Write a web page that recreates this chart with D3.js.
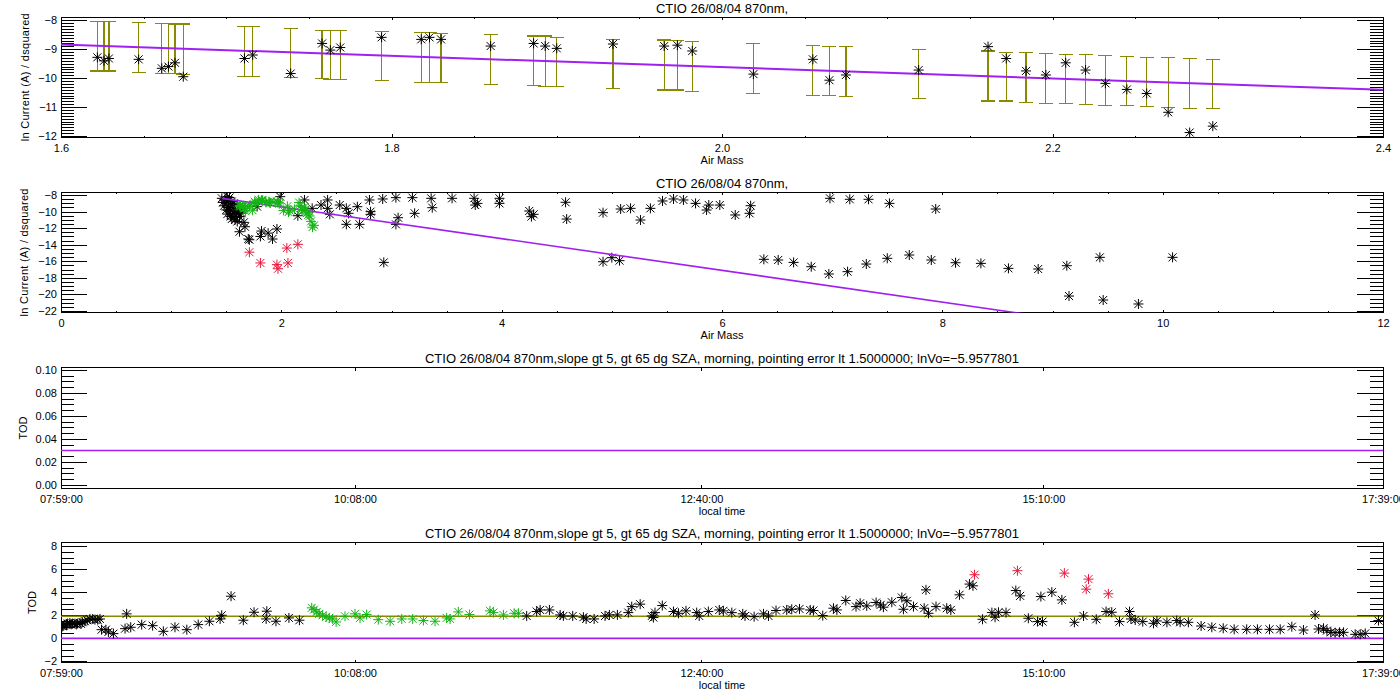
<!DOCTYPE html>
<html>
<head>
<meta charset="utf-8">
<script src="https://cdn.jsdelivr.net/npm/d3@7"></script>
<style>
body { margin: 0; background: #fff; }
text { font-family: "Liberation Sans", Arial, sans-serif; fill: #000; }
</style>
</head>
<body>
<script>
// ---- data ----
var titleShort = "CTIO 26/08/04 870nm,";
var titleLong = "CTIO 26/08/04 870nm,slope gt 5, gt 65 dg SZA, morning, pointing error lt 1.5000000; lnVo=\u22125.9577801";

// panel 1: selected points with error bars
var p1Airmass = [1.622, 1.626, 1.629, 1.647, 1.661, 1.665, 1.669, 1.674, 1.711, 1.716, 1.739, 1.758, 1.763, 1.769, 1.794, 1.818, 1.823, 1.830,
    1.860, 1.886, 1.893, 1.900, 1.934, 1.965, 1.973, 1.982, 2.019, 2.055, 2.065, 2.075, 2.119,
    2.161, 2.172, 2.184, 2.196, 2.208, 2.220, 2.232, 2.245, 2.257, 2.270, 2.283, 2.297];
var p1LnI = [-9.28, -9.40, -9.32, -9.35, -9.66, -9.60, -9.47, -9.95, -9.32, -9.20, -9.84, -8.80, -9.03, -8.94, -8.59, -8.66, -8.59, -8.66,
    -8.89, -8.80, -8.89, -8.97, -8.82, -8.89, -8.86, -9.06, -9.86, -9.35, -10.07, -9.89, -9.72,
    -8.91, -9.32, -9.75, -9.89, -9.47, -9.72, -10.18, -10.39, -10.53, -11.18, -11.88, -11.66];
var p1ErrHi = [-8.05, -8.05, -8.05, -8.08, -8.11, -8.11, -8.13, -8.13, -8.22, -8.22, -8.28, -8.34, -8.34, -8.34, -8.39, -8.42, -8.42, -8.45,
    -8.49, -8.54, -8.54, -8.59, -8.66, -8.68, -8.71, -8.73, -8.80, -8.87, -8.90, -8.90, -9.01,
    -9.06, -9.11, -9.11, -9.14, -9.18, -9.18, -9.21, -9.25, -9.28, -9.28, -9.32, -9.35];
var p1ErrLo = [-9.75, -9.75, -9.75, -9.80, -9.84, -9.84, -9.84, -9.86, -9.95, -9.95, -9.97, -10.01, -10.04, -10.04, -10.07, -10.15, -10.15, -10.15,
    -10.22, -10.25, -10.29, -10.29, -10.35, -10.41, -10.41, -10.46, -10.53, -10.60, -10.60, -10.63, -10.70,
    -10.79, -10.79, -10.84, -10.87, -10.87, -10.91, -10.94, -10.94, -10.98, -11.01, -11.05, -11.05];
var p1FitCoef = [-5.70, -1.96];      // intercept, slope
var p1FitRange = [1.6, 2.4];

// panel 2: all points (airmass, ln current)
var p2Black = [
    [1.46, -8.4], [1.47, -8.9], [1.48, -9.3], [1.49, -8.6], [1.50, -9.8], [1.50, -9.0], [1.51, -8.2], [1.51, -10.3],
    [1.52, -9.5], [1.52, -8.7], [1.53, -10.0], [1.53, -8.3], [1.54, -10.6], [1.54, -9.2], [1.55, -8.8], [1.55, -10.9],
    [1.56, -9.6], [1.56, -10.2], [1.57, -9.0], [1.57, -10.7], [1.58, -9.9], [1.58, -11.0], [1.59, -10.4], [1.60, -9.3],
    [1.60, -11.2], [1.61, -10.1], [1.62, -10.6], [1.63, -9.7], [1.64, -10.2], [1.65, -9.4], [1.66, -11.3],
    [1.67, -11.83], [1.62, -12.43], [1.70, -13.31], [1.71, -13.4], [1.82, -12.35], [1.81, -13.0], [1.88, -12.6],
    [1.92, -13.31], [1.96, -12.1], [1.78, -9.4], [1.99, -8.2], [2.15, -10.5], [2.21, -8.6],
    [2.28, -9.61], [2.36, -9.21], [2.42, -8.60], [2.42, -9.61], [2.44, -10.33], [2.53, -9.21], [2.59, -9.61],
    [2.61, -10.21], [2.59, -11.54], [2.69, -9.41], [2.71, -11.54], [2.80, -8.60], [2.81, -10.01], [2.81, -10.33],
    [2.92, -8.48], [2.93, -16.13], [3.04, -8.32], [3.06, -10.74], [3.04, -11.54], [3.19, -8.32], [3.21, -10.21],
    [3.36, -8.40], [3.37, -9.53], [3.55, -8.40], [3.75, -8.40], [3.76, -9.21], [3.78, -9.01], [3.98, -8.40],
    [3.98, -9.01], [4.25, -9.93], [4.29, -10.33], [4.27, -10.61], [4.58, -8.88], [4.59, -10.90], [4.92, -16.05],
    [4.92, -10.13], [5.00, -15.56], [5.07, -15.92], [5.08, -9.69], [5.17, -9.61], [5.26, -11.02], [5.35, -9.61],
    [5.46, -8.72], [5.56, -8.48], [5.65, -8.60], [5.76, -9.01], [5.86, -9.81], [5.88, -9.21], [5.98, -9.21],
    [6.12, -10.41], [6.25, -10.21], [6.26, -9.29], [6.38, -15.76], [6.51, -15.84], [6.65, -16.13], [6.81, -16.65],
    [6.97, -17.53], [6.98, -8.40], [7.14, -17.25], [7.16, -8.52], [7.31, -16.33], [7.33, -8.52], [7.50, -15.64],
    [7.52, -9.01], [7.70, -15.24], [7.90, -15.84], [7.94, -9.69], [8.12, -16.17], [8.35, -16.25], [8.60, -16.85],
    [8.87, -16.93], [9.13, -16.53], [9.15, -20.19], [9.43, -15.52], [9.46, -20.67], [9.78, -21.15], [10.09, -15.52]
];
var p2Red = [[1.71, -14.9], [1.81, -16.2], [1.96, -16.4], [1.97, -16.9], [2.06, -16.2], [2.05, -14.4], [2.15, -13.95]];
var p2FitCoef = [-5.61, -1.914];
var p2FitRange = [1.46, 12];

// panels 3 and 4: local time in minutes of the day
var timeTicks = [479, 608, 760, 910, 1059];   // 07:59, 10:08, 12:40, 15:10, 17:39
var p3Tod = 0.03;
var p4Black = [
    [479.7, 1.04], [480.2, 1.10], [480.8, 1.19], [481.4, 1.16], [481.9, 1.28], [482.9, 1.33], [483.5, 1.22], [484.1, 1.28],
    [485.1, 1.28], [485.7, 1.20], [486.2, 1.28], [487.3, 1.33], [487.8, 1.25], [488.5, 1.39], [489.5, 1.48], [490.5, 1.57],
    [491.7, 1.68], [492.9, 1.68], [493.9, 1.62], [495.1, 1.62], [496.1, 1.68], [496.8, 0.75], [498.7, 0.75], [499.8, 0.55],
    [502.0, 0.41], [507.1, 0.84], [507.8, 2.12], [509.6, 0.96], [514.4, 1.19], [519.2, 1.10], [523.9, 0.61], [529.0, 0.96],
    [534.2, 0.75], [539.2, 1.19], [544.1, 1.48], [548.8, 1.68], [549.5, 2.00], [553.6, 3.65], [559.0, 1.57], [563.7, 2.26],
    [569.0, 1.68], [569.3, 2.35], [573.3, 1.48], [579.0, 1.77], [583.6, 1.57],
    [683.3, 1.94], [687.7, 2.32], [689.2, 2.46], [693.3, 2.46], [698.0, 2.03], [699.4, 1.94], [703.5, 1.94], [708.2, 1.83],
    [709.4, 1.68], [712.9, 1.68], [717.7, 1.94], [719.6, 2.03], [723.1, 2.03], [727.9, 2.23], [729.4, 2.75], [733.1, 2.96],
    [738.2, 1.94], [738.9, 1.80], [739.6, 2.23], [742.8, 2.84], [747.7, 2.32], [749.9, 2.17], [753.2, 2.38], [757.9, 2.23],
    [759.0, 1.94], [763.0, 2.32], [767.8, 2.46], [769.6, 2.38], [773.3, 2.23], [778.1, 2.12], [779.1, 1.94], [783.1, 1.88],
    [787.2, 2.12], [789.4, 1.94], [792.7, 2.41], [797.4, 2.46], [799.6, 2.52], [803.0, 2.55], [807.7, 2.46], [809.1, 2.41],
    [813.2, 1.97], [817.9, 2.61], [819.4, 2.46], [823.3, 3.28], [827.8, 2.75], [829.6, 3.04], [832.5, 2.81], [836.6, 3.10],
    [838.6, 2.90], [839.8, 2.70], [843.5, 3.13], [847.9, 3.54], [848.6, 2.52], [850.1, 3.25], [853.0, 2.75], [857.7, 2.61],
    [858.5, 4.20], [859.6, 2.17], [862.9, 2.75],
    [867.6, 2.61], [869.4, 2.46], [873.2, 3.77], [877.6, 4.70], [879.1, 4.55], [883.3, 1.65], [887.4, 2.23], [888.8, 1.83],
    [890.3, 2.26], [893.6, 2.23], [897.9, 4.14], [899.8, 3.68], [903.4, 1.74], [907.4, 1.45], [909.6, 1.45], [908.9, 3.62],
    [913.7, 4.00], [918.1, 3.33], [923.6, 1.39], [927.6, 1.94], [933.2, 1.65], [937.5, 2.32], [940.0, 2.26], [943.4, 1.45],
    [947.8, 2.32], [948.4, 1.68], [950.3, 1.59], [953.6, 1.45], [958.3, 1.30], [959.8, 1.51], [964.2, 1.39], [968.5, 1.54],
    [970.0, 1.39], [973.6, 1.39], [979.2, 1.07], [983.9, 0.96], [988.9, 0.87], [993.7, 0.78], [999.2, 0.78], [1003.9, 0.78],
    [1009.2, 0.78], [1013.9, 0.78], [1019.0, 1.01], [1024.1, 0.72], [1029.2, 2.03], [1030.7, 0.81], [1032.9, 0.87],
    [1034.4, 0.67], [1036.1, 0.52], [1038.0, 0.49], [1039.9, 0.52], [1041.7, 0.52], [1046.8, 0.35], [1049.0, 0.35],
    [1051.2, 0.43], [1057.0, 1.54]
];
var p4Green = [
    [589.0, 2.64], [590.0, 2.49], [591.2, 2.29], [592.3, 2.12], [593.8, 2.00], [595.3, 1.86], [596.7, 1.77], [598.2, 1.68],
    [599.7, 1.42], [603.6, 1.91], [608.0, 2.12], [610.2, 1.77], [613.1, 2.06], [618.2, 1.62], [623.4, 1.48], [628.5, 1.68],
    [633.3, 1.68], [638.0, 1.54], [643.1, 1.48], [648.2, 1.77], [649.7, 1.68], [653.3, 2.29], [658.2, 2.06], [667.2, 2.38],
    [668.7, 2.23], [673.1, 2.03], [677.8, 2.17], [679.7, 2.17]
];
var p4Red = [[879.8, 5.51], [898.6, 5.86], [919.2, 5.65], [928.8, 4.26], [929.8, 5.13], [938.5, 3.86]];
var p4Mean = 1.91;
var p4Zero = 0;

// ---- drawing ----
var OLIVE = "#8a8a00", MAGENTA = "#a020f0", GREEN = "#14b414", RED = "#e8163c";
var STAR = "M0,-5V5M-5,0H5M-4,-4L4,4M-4,4L4,-4";
var left = 61, right = 1383;

var svg = d3.select("body").append("svg")
    .attr("width", 1400)
    .attr("height", 700)
    .style("display", "block");

function pad2(n) {
    return d3.format("02d")(n);
}
function timeLabel(m) {
    return pad2(Math.floor(m / 60)) + ":" + pad2(Math.round(m % 60)) + ":00";
}
function steps(a, b, s) {
    return d3.range(Math.round((b - a) / s) + 1).map(function (i) {
        return +(a + i * s).toFixed(4);
    });
}

function panel(cfg) {
    var x = d3.scaleLinear().domain(cfg.xDomain).range([left, right]);
    var y = d3.scaleLinear().domain(cfg.yDomain).range([cfg.bottom, cfg.top]);
    var g = svg.append("g");

    svg.append("clipPath").attr("id", "clip" + cfg.id)
        .append("rect")
        .attr("x", left).attr("y", cfg.top)
        .attr("width", right - left).attr("height", cfg.bottom - cfg.top);

    function style(sel) {
        sel.select(".domain").remove();
        sel.attr("font-family", null).attr("font-size", 11).attr("color", "#000");
        sel.selectAll("line").attr("shape-rendering", "crispEdges");
    }

    // y axes, ticks pointing inward
    if (cfg.yMinor) {
        g.append("g").attr("transform", "translate(" + left + ",0)")
            .call(d3.axisLeft(y).tickValues(cfg.yMinor).tickSize(-13).tickFormat("")).call(style);
        g.append("g").attr("transform", "translate(" + right + ",0)")
            .call(d3.axisRight(y).tickValues(cfg.yMinor).tickSize(-13).tickFormat("")).call(style);
    }
    g.append("g").attr("transform", "translate(" + left + ",0)")
        .call(d3.axisLeft(y).tickValues(cfg.yMajor).tickSize(-26).tickPadding(4).tickFormat(cfg.yFmt)).call(style);
    g.append("g").attr("transform", "translate(" + right + ",0)")
        .call(d3.axisRight(y).tickValues(cfg.yMajor).tickSize(-26).tickFormat("")).call(style);

    // x axes
    if (cfg.xMinor) {
        g.append("g").attr("transform", "translate(0," + cfg.bottom + ")")
            .call(d3.axisBottom(x).tickValues(cfg.xMinor).tickSize(-1.5).tickFormat("")).call(style);
        g.append("g").attr("transform", "translate(0," + cfg.top + ")")
            .call(d3.axisTop(x).tickValues(cfg.xMinor).tickSize(-1.5).tickFormat("")).call(style);
    }
    g.append("g").attr("transform", "translate(0," + cfg.bottom + ")")
        .call(d3.axisBottom(x).tickValues(cfg.xMajor).tickSize(-3).tickPadding(6.5).tickFormat(cfg.xFmt)).call(style);
    g.append("g").attr("transform", "translate(0," + cfg.top + ")")
        .call(d3.axisTop(x).tickValues(cfg.xMajor).tickSize(-3).tickFormat("")).call(style);

    g.append("rect")
        .attr("x", left).attr("y", cfg.top)
        .attr("width", right - left).attr("height", cfg.bottom - cfg.top)
        .attr("fill", "none").attr("stroke", "#000").attr("stroke-width", 1)
        .attr("shape-rendering", "crispEdges");

    g.append("text")
        .attr("x", (left + right) / 2).attr("y", cfg.top - 4.5)
        .attr("text-anchor", "middle").attr("font-size", 13)
        .text(cfg.title);
    g.append("text")
        .attr("x", (left + right) / 2).attr("y", cfg.bottom + 26.5)
        .attr("text-anchor", "middle").attr("font-size", 11)
        .text(cfg.xTitle);
    var yt = g.append("text")
        .attr("transform", "translate(" + cfg.yTitleX + "," + (cfg.top + cfg.bottom) / 2 + ") rotate(-90)")
        .attr("text-anchor", "middle").attr("font-size", 11)
        .text(cfg.yTitle);
    if (cfg.yTitleLen) {
        yt.attr("textLength", cfg.yTitleLen).attr("lengthAdjust", "spacing");
    }

    var plot = svg.append("g").attr("clip-path", "url(#clip" + cfg.id + ")");
    return { x: x, y: y, plot: plot };
}

function stars(p, pts, color) {
    p.plot.append("g").selectAll("path")
        .data(pts)
        .enter()
        .append("path")
        .attr("d", STAR)
        .attr("transform", function (d) {
            return "translate(" + p.x(d[0]) + "," + p.y(d[1]) + ")";
        })
        .attr("fill", "none")
        .attr("stroke", color)
        .attr("stroke-width", 1);
}

function fitLine(p, coef, range, width) {
    var line = d3.line()
        .x(function (d) { return p.x(d); })
        .y(function (d) { return p.y(coef[0] + coef[1] * d); });
    p.plot.append("path")
        .datum(range)
        .attr("d", line)
        .attr("fill", "none")
        .attr("stroke", MAGENTA)
        .attr("stroke-width", width);
}

function hLine(p, v, color) {
    p.plot.append("line")
        .attr("x1", p.x.range()[0]).attr("x2", p.x.range()[1])
        .attr("y1", p.y(v)).attr("y2", p.y(v))
        .attr("stroke", color).attr("stroke-width", 1.6);
}

// panel 1
var p1 = panel({
    id: 1, top: 17.3, bottom: 137.3,
    xDomain: [1.6, 2.4], yDomain: [-12.045, -7.896],
    xMajor: steps(1.6, 2.4, 0.2), xMinor: steps(1.6, 2.4, 0.05), xFmt: d3.format(".1f"),
    yMajor: steps(-12, -8, 1), yMinor: steps(-12, -8, 0.1), yFmt: d3.format("d"),
    title: titleShort, xTitle: "Air Mass", yTitle: "ln Current (A) / dsquared", yTitleX: 29, yTitleLen: 128
});
var p1Pts = p1Airmass.map(function (m, i) {
    return [m, p1LnI[i], p1ErrLo[i], p1ErrHi[i]];
});
var bars = p1.plot.append("g").attr("stroke", OLIVE).attr("stroke-width", 1.2).attr("shape-rendering", "crispEdges");
p1Pts.forEach(function (d) {
    var cx = p1.x(d[0]);
    bars.append("line").attr("x1", cx).attr("x2", cx).attr("y1", p1.y(d[2])).attr("y2", p1.y(d[3]));
    bars.append("line").attr("x1", cx - 7).attr("x2", cx + 7).attr("y1", p1.y(d[2])).attr("y2", p1.y(d[2]));
    bars.append("line").attr("x1", cx - 7).attr("x2", cx + 7).attr("y1", p1.y(d[3])).attr("y2", p1.y(d[3]));
});
fitLine(p1, p1FitCoef, p1FitRange, 2);
stars(p1, p1Pts, "#000");

// panel 2
var p2 = panel({
    id: 2, top: 192.3, bottom: 312.7,
    xDomain: [0, 12], yDomain: [-22.2, -7.674],
    xMajor: steps(0, 12, 2), xMinor: steps(0, 12, 0.5), xFmt: d3.format("d"),
    yMajor: steps(-22, -8, 2), yMinor: steps(-22, -8, 0.5), yFmt: d3.format("d"),
    title: titleShort, xTitle: "Air Mass", yTitle: "ln Current (A) / dsquared", yTitleX: 28, yTitleLen: 128
});
stars(p2, p2Black, "#000");
fitLine(p2, p2FitCoef, p2FitRange, 1.6);
stars(p2, p1Pts, GREEN);
stars(p2, p2Red, RED);

// panel 3
var p3 = panel({
    id: 3, top: 367.7, bottom: 488.3,
    xDomain: [479, 1059], yDomain: [-0.0029, 0.102],
    xMajor: timeTicks, xMinor: null, xFmt: timeLabel,
    yMajor: steps(0, 0.1, 0.02), yMinor: steps(0, 0.1, 0.005), yFmt: d3.format(".2f"),
    title: titleLong, xTitle: "local time", yTitle: "TOD", yTitleX: 26.5
});
hLine(p3, p3Tod, MAGENTA);

// panel 4
var p4 = panel({
    id: 4, top: 542.3, bottom: 662.7,
    xDomain: [479, 1059], yDomain: [-2.11, 8.32],
    xMajor: timeTicks, xMinor: null, xFmt: timeLabel,
    yMajor: steps(-2, 8, 2), yMinor: steps(-2, 8, 0.5), yFmt: d3.format("d"),
    title: titleLong, xTitle: "local time", yTitle: "TOD", yTitleX: 35.5
});
hLine(p4, p4Mean, OLIVE);
hLine(p4, p4Zero, MAGENTA);
stars(p4, p4Black, "#000");
stars(p4, p4Green, GREEN);
stars(p4, p4Red, RED);
</script>
</body>
</html>
